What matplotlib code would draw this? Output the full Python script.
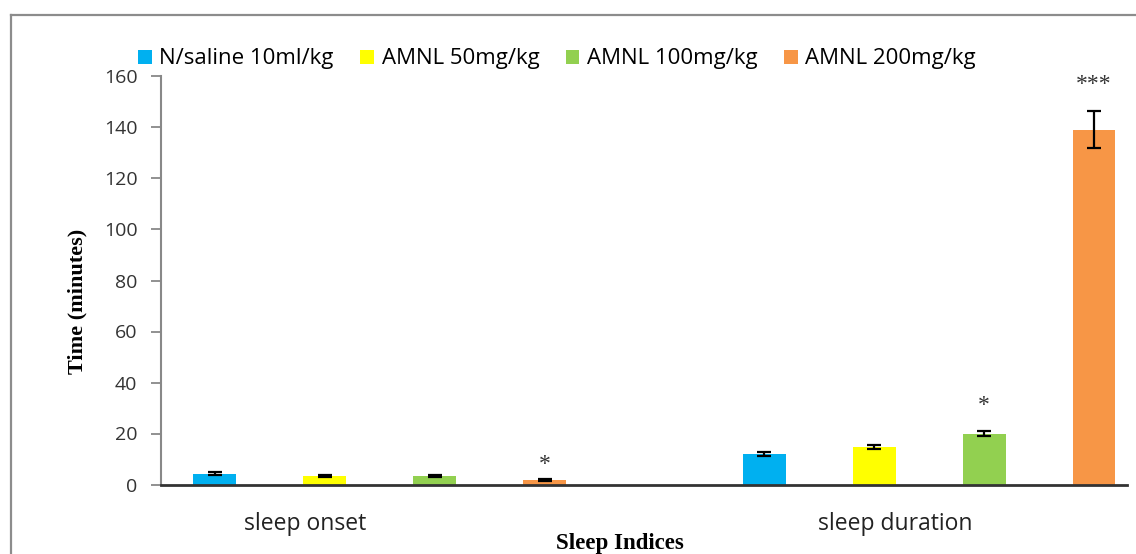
import numpy as np
import matplotlib
matplotlib.use("Agg")
import matplotlib.pyplot as plt
from matplotlib.lines import Line2D

# Sleep indices measured per treatment group (mean ± SEM, minutes)
categories = ["sleep onset", "sleep duration"]
groups = ["N/saline 10ml/kg", "AMNL 50mg/kg", "AMNL 100mg/kg", "AMNL 200mg/kg"]
means = {
    "N/saline 10ml/kg": [4.3, 11.8],
    "AMNL 50mg/kg": [3.4, 14.6],
    "AMNL 100mg/kg": [3.2, 20.0],
    "AMNL 200mg/kg": [1.7, 139.2],
}
sems = {
    "N/saline 10ml/kg": [0.5, 0.8],
    "AMNL 50mg/kg": [0.4, 0.8],
    "AMNL 100mg/kg": [0.35, 1.1],
    "AMNL 200mg/kg": [0.4, 7.2],
}
# significance marks: (category index, group index, text, height in minutes)
marks = [(0, 3, "*", 8.0), (1, 2, "*", 31.0), (1, 3, "***", 157.0)]
colors = ["#00B0F0", "#FFFF00", "#92D050", "#F79646"]
yticks = [0, 20, 40, 60, 80, 100, 120, 140, 160]

W, H = 1136, 554
fig = plt.figure(figsize=(W / 100, H / 100), dpi=100)
ax = fig.add_axes([161 / W, 1 - 484.5 / H, (1127 - 161) / W, 408 / H])

x = np.arange(len(categories))
step = 0.2
width = 0.078
for j, (g, c) in enumerate(zip(groups, colors)):
    pos = x + (j - 1.5) * step
    ax.bar(pos, means[g], width=width, color=c, label=g, zorder=2)
    ax.errorbar(pos, means[g], yerr=sems[g], fmt="none", ecolor="black",
                elinewidth=1.6, capsize=5, capthick=1.6, zorder=3)

for ci, gi, txt, yv in marks:
    ax.text(x[ci] + (gi - 1.5) * step, yv, txt, ha="center", va="center",
            fontsize=17, color="#333333", family="Liberation Serif")

ax.set_xlim(-0.398, 1.36)
ax.set_ylim(0, 160)
ax.set_yticks(yticks)
ax.set_yticklabels([str(v) for v in yticks], family="Open Sans", fontsize=14,
                   color="#333333")
ax.set_xticks(x + np.array([-0.136, -0.062]))
ax.set_xticklabels(categories, family="Open Sans", fontsize=16.5, color="#222222")
ax.tick_params(axis="x", length=0, pad=20)
ax.tick_params(axis="y", length=7, width=1.3, color="#888888", pad=10)

for s in ["top", "right"]:
    ax.spines[s].set_visible(False)
ax.spines["left"].set_color("#888888")
ax.spines["left"].set_linewidth(1.5)
ax.spines["bottom"].set_color("#333333")
ax.spines["bottom"].set_linewidth(2)
ax.spines["bottom"].set_zorder(4)

ax.set_ylabel("Time (minutes)", family="Liberation Serif", fontweight="bold",
              fontsize=16)
ax.yaxis.set_label_coords(-0.076, 0.45)
ax.set_xlabel("Sleep Indices", family="Liberation Serif", fontweight="bold",
              fontsize=16.5)
ax.xaxis.set_label_coords(0.475, -0.118)

ax.legend(loc="lower left", bbox_to_anchor=(-0.035, 0.99), ncol=4, frameon=False,
          prop={"family": "Open Sans", "size": 16}, handlelength=0.6,
          handleheight=0.6, handletextpad=0.35, columnspacing=1.2,
          borderaxespad=0.1)

# outer frame
fig.add_artist(Line2D([11 / W, 1.0], [1 - 15 / H, 1 - 15 / H],
                      transform=fig.transFigure, color="#8c8c8c", lw=1.6))
fig.add_artist(Line2D([11 / W, 11 / W], [0.0, 1 - 15 / H],
                      transform=fig.transFigure, color="#8c8c8c", lw=1.6))

fig.savefig("out.png", dpi=100)
